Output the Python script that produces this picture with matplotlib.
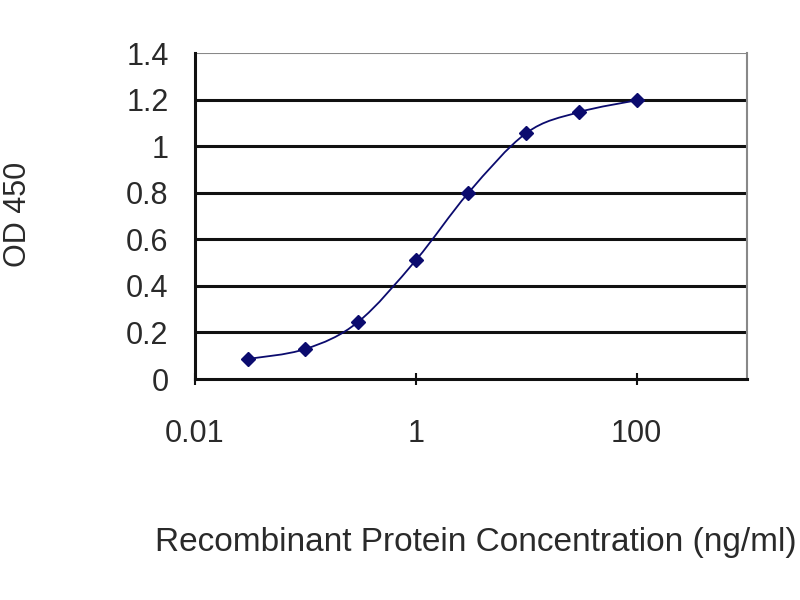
import matplotlib
matplotlib.use("Agg")
import matplotlib.pyplot as plt
import numpy as np
from matplotlib.path import Path
from matplotlib.patches import PathPatch

# concentrations (ng/ml) and OD 450 readings
conc = [0.03, 0.1, 0.3, 1, 3, 10, 30, 100]
od450 = [0.086, 0.129, 0.245, 0.51, 0.80, 1.056, 1.146, 1.197]

x_ticks = [0.01, 1, 100]
x_tick_labels = ["0.01", "1", "100"]
y_ticks = [0, 0.2, 0.4, 0.6, 0.8, 1, 1.2, 1.4]
y_tick_labels = ["0", "0.2", "0.4", "0.6", "0.8", "1", "1.2", "1.4"]

navy = "#0b0b6e"
text_grey = "#2a2a2a"

plt.rcParams["font.family"] = ["Liberation Sans", "DejaVu Sans"]

fig = plt.figure(figsize=(8, 6), dpi=100)
ax = fig.add_axes([0.24375, 0.3683, 0.69, 0.5433])
ax.set_xscale("log")
ax.set_xlim(0.01, 1000)
ax.set_ylim(0, 1.4)

# horizontal grid lines
for yv in y_ticks[1:-1]:
    ax.axhline(yv, color="#111111", lw=2.2, zorder=1)
ax.axhline(1.4, color="#888888", lw=1.5, zorder=1)

# smooth line through the points (Catmull-Rom -> cubic Bezier in log-x space)
lx = np.log10(conc)
yy = np.asarray(od450)
pts = np.column_stack([lx, yy])
verts = [pts[0]]
codes = [Path.MOVETO]
n = len(pts)
for i in range(n - 1):
    p0 = pts[max(i - 1, 0)]
    p1 = pts[i]
    p2 = pts[i + 1]
    p3 = pts[min(i + 2, n - 1)]
    c1 = p1 + (p2 - p0) / 6.0
    c2 = p2 - (p3 - p1) / 6.0
    verts += [c1, c2, p2]
    codes += [Path.CURVE4] * 3
verts = np.array(verts)
verts[:, 0] = 10 ** verts[:, 0]
curve = PathPatch(Path(verts, codes), facecolor="none", edgecolor=navy, lw=1.3, zorder=3)
ax.add_patch(curve)

ax.plot(conc, od450, linestyle="none", marker="D", markersize=7.5,
        color=navy, zorder=4)

for side in ["left", "bottom"]:
    ax.spines[side].set_color("#111111")
    ax.spines[side].set_linewidth(2.2)
ax.spines["right"].set_color("#888888")
ax.spines["right"].set_linewidth(1.5)
ax.spines["top"].set_visible(False)

ax.set_xticks(x_ticks)
ax.set_xticklabels(x_tick_labels)
ax.xaxis.set_minor_locator(matplotlib.ticker.NullLocator())
ax.tick_params(axis="x", direction="inout", length=8, width=1.5, color="#111111",
               labelsize=22, labelcolor=text_grey, pad=25)
ax.set_yticks(y_ticks)
ax.set_yticklabels(y_tick_labels)
ax.tick_params(axis="y", length=0, labelsize=22, labelcolor=text_grey, pad=19)

fig.text(0.0225, 0.643, "OD 450", rotation=90, ha="center", va="center",
         fontsize=22, color=text_grey)
fig.text(0.595, 0.095, "Recombinant Protein Concentration (ng/ml)", ha="center",
         va="center", fontsize=24, color=text_grey)

fig.savefig("out.png", dpi=100, facecolor="white")
